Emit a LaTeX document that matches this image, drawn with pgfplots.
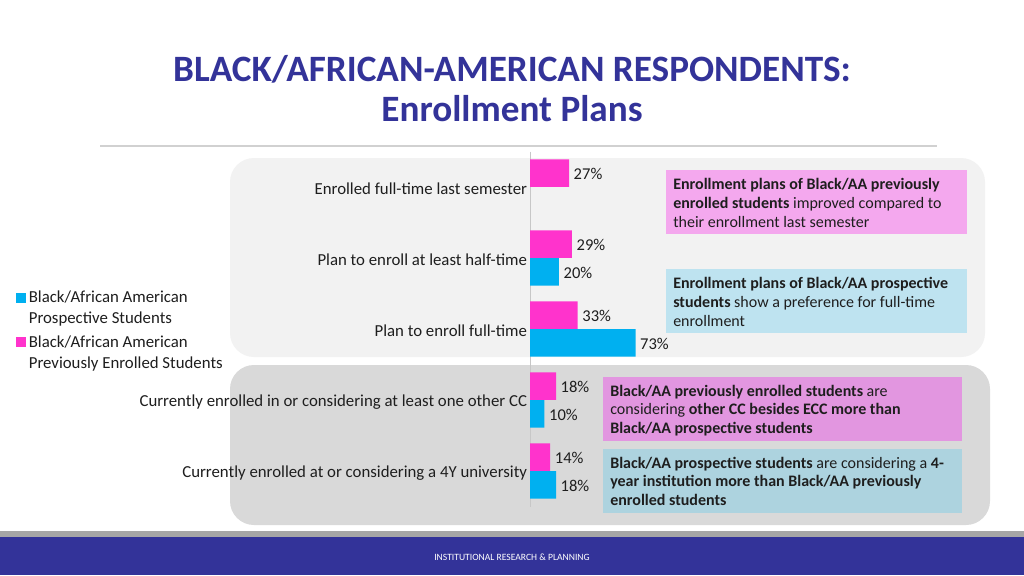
\documentclass[border=0pt]{standalone}
\usepackage{fontspec}
\setmainfont{Carlito}
\usepackage{pgfplots}
\pgfplotsset{compat=1.18}
\definecolor{titleblue}{RGB}{51,51,153}
\definecolor{barblue}{RGB}{0,176,240}
\definecolor{barpink}{RGB}{255,51,204}
\definecolor{boxpink}{RGB}{244,168,238}
\definecolor{boxblue}{RGB}{190,227,240}
\definecolor{boxorchid}{RGB}{226,150,224}
\definecolor{boxsteel}{RGB}{173,211,223}
\definecolor{regionlight}{RGB}{242,242,242}
\definecolor{regiondark}{RGB}{217,217,217}
\definecolor{txt}{RGB}{30,30,30}
\begin{document}
\begin{tikzpicture}
\begin{scope}[x=0.75pt,y=-0.75pt]
\fill[white] (0,0) rectangle (1024,575);
\node[text=titleblue, font=\fontsize{27.9}{30}\selectfont\bfseries, align=center] at (512,89) {BLACK/AFRICAN-AMERICAN RESPONDENTS:\\Enrollment Plans};
\draw[line width=1.1pt, draw=black!18] (100,146) -- (937,146);
\fill[regionlight, rounded corners=18pt] (230,158) rectangle (985,357);
\fill[regiondark, rounded corners=18pt] (230,365) rectangle (990,525);
% boxes
\fill[boxpink] (666,170) rectangle (967,234);
\fill[boxblue] (666,269) rectangle (967,333);
\fill[boxorchid] (603,377) rectangle (962,441);
\fill[boxsteel] (603,449) rectangle (962,513);
\begin{scope}[every node/.style={anchor=base west, align=left, text=txt, inner sep=0pt, font=\fontsize{12}{13.9}\selectfont}]
\node at (673,227) {\textbf{Enrollment plans of Black/AA previously}\\\textbf{enrolled students} improved compared to\\their enrollment last semester};
\node at (673,326) {\textbf{Enrollment plans of Black/AA prospective}\\\textbf{students} show a preference for full-time\\enrollment};
\node at (610,433.5) {\textbf{Black/AA previously enrolled students} are\\considering \textbf{other CC besides ECC more than}\\\textbf{Black/AA prospective students}};
\node at (610,505.5) {\textbf{Black/AA prospective students} are considering a \textbf{4-}\\\textbf{year institution more than Black/AA previously}\\\textbf{enrolled students}};
\end{scope}
% footer
\fill[black!35] (0,531) rectangle (1024,537);
\fill[titleblue] (0,537) rectangle (1024,575);
\node[text=white, font=\fontsize{7.2}{8}\selectfont] at (512,557) {INSTITUTIONAL RESEARCH \& PLANNING};
\end{scope}
\begin{axis}[
  at={(397.5pt,-113.625pt)}, anchor=north west,
  scale only axis, width=108.4pt, height=266.25pt,
  xbar, xmin=0, xmax=100, ymin=-0.5, ymax=4.5, y dir=reverse,
  enlargelimits=false, clip=false,
  axis x line=none, axis y line*=left,
  y axis line style={draw=black!22, line width=0.6pt},
  ytick={0,1,2,3,4},
  yticklabels={Enrolled full-time last semester, Plan to enroll at least half-time, Plan to enroll full-time, Currently enrolled in or considering at least one other CC, Currently enrolled at or considering a 4Y university},
  major tick length=0pt,
  yticklabel style={font=\fontsize{12.6}{14}\selectfont, text=txt, inner sep=2pt, yshift=-1.5pt},
  bar width=0.387,
  /pgf/number format/assume math mode=true,
  nodes near coords={\pgfmathprintnumber\pgfplotspointmeta\%},
  nodes near coords style={font=\fontsize{12.4}{14}\selectfont, text=txt, yshift=-0.75pt},
  legend style={at={(axis description cs:-3.557,0.6155)}, anchor=north west, draw=none, fill=none,
    font=\fontsize{12.6}{15.75}\selectfont, row sep=3.5pt, inner sep=0pt,
    nodes={anchor=base west, align=left, text=txt, inner sep=2pt, xshift=0.75pt}},
  legend image code/.code={\fill[#1] (0pt,15.75pt) rectangle (7.5pt,23.25pt);},
]
\addplot[fill=barblue, draw=none, bar shift=0.194] coordinates {(20,1) (73,2) (10,3) (18,4)};
\addplot[fill=barpink, draw=none, bar shift=-0.194] coordinates {(27,0) (29,1) (33,2) (18,3) (14,4)};
\legend{{Black/African American\\Prospective Students}, {Black/African American\\Previously Enrolled Students}}
\end{axis}
\pgfresetboundingbox
\path[use as bounding box] (0,0) rectangle (768pt,-431.25pt);
\end{tikzpicture}
\end{document}
